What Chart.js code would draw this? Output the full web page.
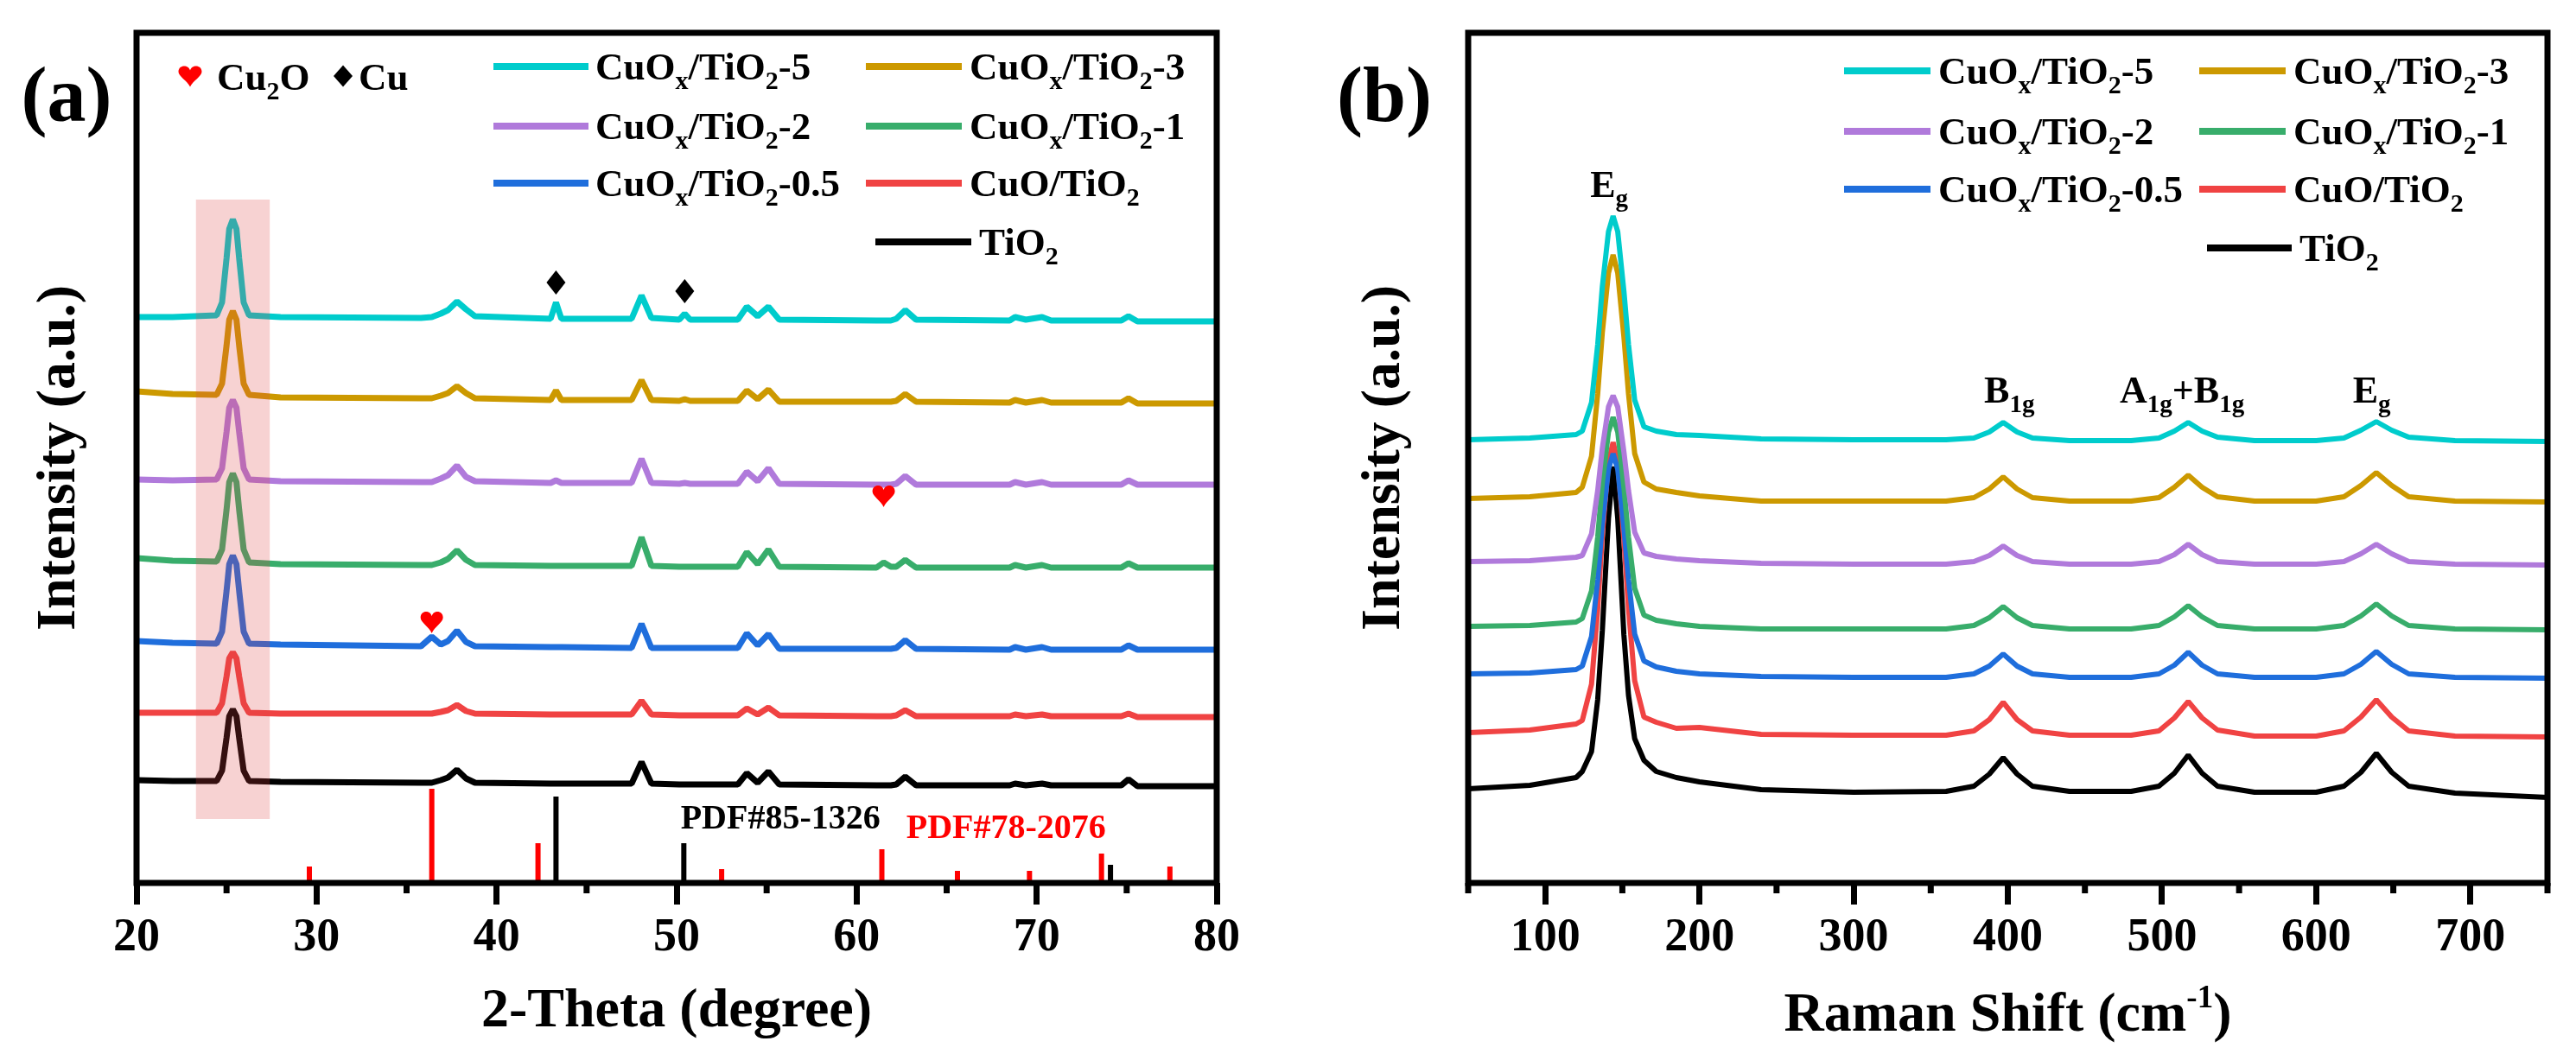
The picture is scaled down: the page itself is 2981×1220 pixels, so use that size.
<!DOCTYPE html>
<html><head><meta charset="utf-8">
<script src="https://cdn.jsdelivr.net/npm/chart.js@4.4.1/dist/chart.umd.min.js"></script>
<style>
html,body{margin:0;padding:0;background:#fff;}
#wrap{position:relative;width:2981px;height:1220px;background:#fff;}
canvas{position:absolute;top:0;}
#cA{left:0;width:1490px;height:1220px;}
#cB{left:1490px;width:1491px;height:1220px;}
</style></head><body>
<div id="wrap"><canvas id="cA" width="1490" height="1220"></canvas><canvas id="cB" width="1491" height="1220"></canvas></div>
<script>
// ---------------- DATA ----------------
const seriesLabels = ['CuO_{x}/TiO_{2}-5','CuO_{x}/TiO_{2}-3','CuO_{x}/TiO_{2}-2','CuO_{x}/TiO_{2}-1','CuO_{x}/TiO_{2}-0.5','CuO/TiO_{2}','TiO_{2}'];
const seriesColors = ['#00CCCC','#CC9900','#B07ADB','#38AD6B','#1F6EDC','#F04343','#000000'];

// (a) XRD, 2-theta (degree)
const xrdTheta = [20,22,24.45,24.75,25.0,25.15,25.35,25.55,25.7,25.95,26.25,28,35.8,36.4,36.9,37.3,37.8,38.3,38.8,43.0,43.3,43.6,47.5,48.05,48.6,50.15,50.45,50.75,53.4,53.9,54.5,55.1,55.7,61.1,61.5,61.9,62.2,62.7,63.3,68.5,68.8,69.4,70.3,70.8,74.7,75.1,75.6,80];
const xrdCuOx5 = [655,655,657,672,723,757,768,757,723,672,657,655,654,655,659,663,673,664,656,653,672,653,653,680,654,652,659,652,652,667,656,667,652,651,651,651,653,663,652,651,655,652,655,651,651,656,650,650];
const xrdCuOx3 = [569,566,565,578,622,652,662,652,622,578,565,562,561,561,564,567,575,567,561,559,570,559,559,582,559,558,560,558,558,570,560,571,557,557,557,557,558,566,557,556,559,556,559,556,556,561,555,555];
const xrdCuOx2 = [467,466,467,480,522,550,559,550,522,480,467,465,464,464,468,472,483,470,465,463,466,463,463,491,463,462,463,462,462,476,465,480,462,461,461,461,462,471,461,461,464,461,464,461,461,466,461,461];
const xrdCuOx1 = [376,373,372,386,432,464,474,464,432,386,371,369,368,368,371,375,385,374,368,367,367,367,367,400,367,366,366,366,366,383,369,386,366,365,371,366,366,374,365,365,368,365,368,365,365,370,365,365];
const xrdCuOx05 = [280,278,277,291,338,369,379,369,338,291,277,276,274,285,276,280,292,279,274,273,273,273,272,300,272,272,272,272,272,289,275,288,271,271,271,271,272,281,271,270,273,270,273,270,270,275,270,270];
const xrdCuO = [197,197,197,208,239,260,267,260,239,208,197,196,196,196,198,200,206,199,196,195,195,195,195,211,195,194,194,194,194,202,195,203,194,193,193,193,194,200,193,193,195,193,195,193,193,196,192,192];
const xrdTiO2 = [119,118,118,130,168,193,201,193,168,130,118,117,116,116,119,122,131,121,116,115,115,115,115,140,115,114,114,114,114,127,116,129,114,113,113,113,114,123,113,113,115,113,115,113,113,120,112,112];
// reference patterns
const cu2oTheta = [29.6,36.4,42.3,52.5,61.4,65.6,69.6,73.6,77.4];
const cu2oInt   = [19,109,46,16,39,14,14,34,19];
const cuTheta   = [43.3,50.4,74.1];
const cuInt     = [100,46,21];
// phase markers
const cuMarkTheta = [43.3,50.45];
const cuMarkInt   = [695,685];
const cu2oMarkTheta = [36.4,61.5];
const cu2oMarkInt   = [302,448];
const highlightTheta = [23.3,27.4];
const highlightInt   = [74,791];
const pdfLabels = ['PDF#85-1326','PDF#78-2076'];
const pdfTheta  = [55.77,68.3];
const pdfInt    = [73,62];
const xrdTickLabels = ['20','30','40','50','60','70','80'];

// (b) Raman, shift (cm-1)
const ramanShift = [50,90,120,124,130,134,137,141,144,147,151,154,158,164,172,185,200,240,300,360,378,388,397,406,416,440,480,498,508,517,526,536,560,600,618,629,639,649,660,690,750];
const ramanCuOx5 = [513,515,519,523,556,623,690,754,772,754,685,623,559,528,523,519,518,514,513,513,515,522,533,522,515,512,512,515,523,533,523,516,512,512,515,524,534,524,516,512,511];
const ramanCuOx3 = [445,447,452,458,494,566,637,706,727,706,632,566,497,464,456,452,448,442,442,442,446,456,470,456,446,442,442,446,458,472,458,447,442,442,447,460,475,460,447,442,441];
const ramanCuOx2 = [372,373,377,379,404,454,503,551,564,551,499,454,406,382,378,375,373,370,369,369,372,379,390,379,372,369,369,372,380,392,380,372,369,369,372,381,392,381,372,369,368];
const ramanCuOx1 = [297,298,302,306,338,400,463,522,539,522,458,400,341,310,304,300,297,294,294,294,298,307,320,307,298,294,294,298,308,321,308,298,294,294,298,309,323,309,298,294,293];
const ramanCuOx05 = [242,243,247,251,285,351,416,479,497,479,411,351,288,257,250,245,242,239,238,238,242,251,265,251,242,238,238,242,252,267,252,242,238,238,242,253,268,253,242,238,237];
const ramanCuO = [174,177,184,188,230,317,403,487,510,487,397,317,234,192,186,179,180,172,171,171,176,189,209,189,176,171,171,176,191,210,191,177,170,170,176,192,212,192,176,170,169];
const ramanTiO2 = [109,113,122,129,152,212,292,422,482,422,287,217,167,142,129,122,117,108,105,106,112,126,145,126,112,106,106,112,127,148,127,112,105,105,112,128,150,128,112,104,99];
const ramanModeLabels = ['E_{g}','B_{1g}','A_{1g}+B_{1g}','E_{g}'];
const ramanModeShift  = [141.4,401,513,636];
const ramanModeInt    = [794,556,556,556];
const ramanTickLabels = ['100','200','300','400','500','600','700'];

const xrdSeries = [xrdCuOx5,xrdCuOx3,xrdCuOx2,xrdCuOx1,xrdCuOx05,xrdCuO,xrdTiO2];
const ramanSeries = [ramanCuOx5,ramanCuOx3,ramanCuOx2,ramanCuOx1,ramanCuOx05,ramanCuO,ramanTiO2];

// ---------------- HELPERS ----------------
const SERIF = '"Liberation Serif"';
Chart.defaults.color = '#000';
Chart.defaults.font.family = SERIF;

function parseRich(s){
  const out=[]; let i=0, buf='';
  while(i<s.length){
    const c=s[i];
    if((c==='_'||c==='^') && s[i+1]==='{'){
      if(buf){out.push({t:buf,m:0}); buf='';}
      const j=s.indexOf('}',i);
      out.push({t:s.slice(i+2,j), m: c==='_'?1:2});
      i=j+1;
    } else {buf+=c; i++;}
  }
  if(buf) out.push({t:buf,m:0});
  return out;
}
function plain(s){ return parseRich(s).map(p=>p.t).join(''); }
function subSize(size,m){ return m===0 ? size : Math.round(size*(m===1?0.66:0.58)); }
function drawRich(ctx, s, x, y, size, color, align){
  const parts=parseRich(s);
  ctx.save();
  ctx.fillStyle=color; ctx.textBaseline='alphabetic'; ctx.textAlign='left';
  let w=0;
  for(const p of parts){ ctx.font='bold '+subSize(size,p.m)+'px '+SERIF; w+=ctx.measureText(p.t).width; }
  let cx = align==='center' ? x-w/2 : x;
  for(const p of parts){
    ctx.font='bold '+subSize(size,p.m)+'px '+SERIF;
    const dy = p.m===1 ? size*0.25 : (p.m===2 ? -size*0.42 : 0);
    ctx.fillText(p.t, cx, y+dy);
    cx += ctx.measureText(p.t).width;
  }
  ctx.restore();
}
function heart(ctx,cx,cy,w,h,color){
  const top=cy-h/2, bot=cy+h/2;
  ctx.save(); ctx.fillStyle=color; ctx.beginPath();
  ctx.moveTo(cx,bot);
  ctx.bezierCurveTo(cx-w*0.12,bot-h*0.28, cx-w/2,cy+h*0.02, cx-w/2,top+h*0.3);
  ctx.bezierCurveTo(cx-w/2,top-h*0.04, cx-w*0.06,top-h*0.04, cx,top+h*0.24);
  ctx.bezierCurveTo(cx+w*0.06,top-h*0.04, cx+w/2,top-h*0.04, cx+w/2,top+h*0.3);
  ctx.bezierCurveTo(cx+w/2,cy+h*0.02, cx+w*0.12,bot-h*0.28, cx,bot);
  ctx.closePath(); ctx.fill(); ctx.restore();
}
function diamond(ctx,cx,cy,w,h,color){
  ctx.save(); ctx.fillStyle=color; ctx.beginPath();
  ctx.moveTo(cx,cy-h/2); ctx.lineTo(cx+w/2,cy); ctx.lineTo(cx,cy+h/2); ctx.lineTo(cx-w/2,cy);
  ctx.closePath(); ctx.fill(); ctx.restore();
}
function drawFrame(chart){
  const {ctx, chartArea:a} = chart;
  ctx.save(); ctx.strokeStyle='#000'; ctx.lineWidth=7;
  ctx.strokeRect(a.left,a.top,a.right-a.left,a.bottom-a.top);
  ctx.restore();
}
function drawMinorTicks(chart, step, majors){
  const {ctx, scales:{x}, chartArea:a} = chart;
  ctx.save(); ctx.strokeStyle='#000'; ctx.lineWidth=7;
  for(let v=x.min; v<=x.max+1e-9; v+=step){
    if(majors.includes(String(v))) continue;
    const px=x.getPixelForValue(v);
    ctx.beginPath(); ctx.moveTo(px,a.bottom); ctx.lineTo(px,a.bottom+12); ctx.stroke();
  }
  ctx.restore();
}
function drawLegend(chart, items){
  const ctx=chart.ctx;
  items.forEach(it=>{
    ctx.save(); ctx.strokeStyle=seriesColors[it.i]; ctx.lineWidth=8; ctx.lineCap='butt';
    ctx.beginPath(); ctx.moveTo(it.x1,it.y); ctx.lineTo(it.x2,it.y); ctx.stroke(); ctx.restore();
    drawRich(ctx, seriesLabels[it.i], it.tx, it.y+15, 45, '#000', 'left');
  });
}
function yTitle(ctx, text, x, y){
  ctx.save(); ctx.translate(x,y); ctx.rotate(-Math.PI/2);
  ctx.fillStyle='#000'; ctx.font='bold 64px '+SERIF; ctx.textAlign='center'; ctx.textBaseline='alphabetic';
  ctx.fillText(text,0,0); ctx.restore();
}

function traceSets(xs, series, width){
  return series.map((arr,i)=>({
    label: plain(seriesLabels[i]),
    data: xs.map((x,k)=>({x:x, y:arr[k]})),
    borderColor: seriesColors[i],
    borderWidth: width,
    pointRadius: 0,
    tension: 0,
    borderJoinStyle: 'bevel',
    fill: false
  }));
}
function stickSet(label, xs, hs, color){
  const d=[];
  xs.forEach((x,k)=>{ d.push({x:x,y:0}); d.push({x:x,y:hs[k]}); d.push({x:x,y:null}); });
  return {label, data:d, borderColor:color, borderWidth:6, pointRadius:0, spanGaps:false, borderCapStyle:'butt', fill:false};
}
function xScale(min,max,step,labels){
  return {
    type:'linear', min, max,
    border:{display:false},
    ticks:{stepSize:step, autoSkip:false, maxRotation:0, minRotation:0, padding:7, color:'#000',
      font:{family:SERIF, size:54, weight:'bold'},
      callback:(v)=> labels.includes(String(v)) ? String(v) : ''},
    grid:{display:true, drawOnChartArea:false, drawTicks:true, tickLength:25, tickWidth:7,
      tickColor:(c)=> (c.tick && labels.includes(String(c.tick.value))) ? '#000' : 'rgba(0,0,0,0)'},
    afterFit:(s)=>{ s.height = 198; }
  };
}

// ---------------- CHART (a) ----------------
const decorA = {
  id:'decorA',
  afterDatasetsDraw(chart){
    const {ctx, scales:{x,y}} = chart;
    ctx.save();
    ctx.fillStyle='rgba(222,66,66,0.24)';
    const x1=x.getPixelForValue(highlightTheta[0]), x2=x.getPixelForValue(highlightTheta[1]);
    const y1=y.getPixelForValue(highlightInt[1]), y2=y.getPixelForValue(highlightInt[0]);
    ctx.fillRect(x1,y1,x2-x1,y2-y1);
    ctx.restore();
    cuMarkTheta.forEach((t,k)=> diamond(ctx, x.getPixelForValue(t), y.getPixelForValue(cuMarkInt[k]), 22, 28, '#000'));
    cu2oMarkTheta.forEach((t,k)=> heart(ctx, x.getPixelForValue(t), y.getPixelForValue(cu2oMarkInt[k]), 26, 26, '#FF0000'));
    ctx.save();
    ctx.font='bold 40px '+SERIF; ctx.textAlign='center'; ctx.textBaseline='middle';
    ctx.fillStyle='#000'; ctx.fillText(pdfLabels[0], x.getPixelForValue(pdfTheta[0]), y.getPixelForValue(pdfInt[0]));
    ctx.fillStyle='#FF0000'; ctx.fillText(pdfLabels[1], x.getPixelForValue(pdfTheta[1]), y.getPixelForValue(pdfInt[1]));
    ctx.restore();
  },
  afterDraw(chart){
    const ctx=chart.ctx, a=chart.chartArea;
    drawFrame(chart);
    drawMinorTicks(chart, 5, xrdTickLabels);
    drawLegend(chart, [
      {i:0,x1:571,x2:681,tx:689,y:77},{i:1,x1:1002,x2:1113,tx:1122,y:77},
      {i:2,x1:571,x2:681,tx:689,y:146},{i:3,x1:1002,x2:1113,tx:1122,y:146},
      {i:4,x1:571,x2:681,tx:689,y:212},{i:5,x1:1002,x2:1113,tx:1122,y:212},
      {i:6,x1:1013,x2:1124,tx:1133,y:280}
    ]);
    heart(ctx,220,88,27,25,'#FF0000');
    drawRich(ctx,'Cu_{2}O',251,104,45,'#000','left');
    diamond(ctx,397,88,22,25,'#000');
    drawRich(ctx,'Cu',415,104,45,'#000','left');
    ctx.save(); ctx.fillStyle='#000'; ctx.font='bold 90px '+SERIF; ctx.textAlign='center'; ctx.textBaseline='alphabetic';
    ctx.fillText('(a)',77,140); ctx.restore();
    yTitle(ctx,'Intensity (a.u.)',86,(a.top+a.bottom)/2);
    ctx.save(); ctx.fillStyle='#000'; ctx.font='bold 64px '+SERIF; ctx.textAlign='center'; ctx.textBaseline='alphabetic';
    ctx.fillText('2-Theta (degree)',(a.left+a.right)/2,1188); ctx.restore();
  }
};

new Chart(document.getElementById('cA'), {
  type:'line',
  data:{datasets:[...traceSets(xrdTheta,xrdSeries,7),
    stickSet('PDF#85-1326 (Cu)',cuTheta,cuInt,'#000000'),
    stickSet('PDF#78-2076 (Cu2O)',cu2oTheta,cu2oInt,'#FF0000')]},
  options:{
    responsive:false, animation:false, devicePixelRatio:1,
    layout:{padding:{left:158,right:82,top:38,bottom:0}},
    plugins:{legend:{display:false}, tooltip:{enabled:false}, title:{display:false}},
    scales:{ x: xScale(20,80,5,xrdTickLabels), y:{display:false,min:0,max:984} }
  },
  plugins:[decorA]
});

// ---------------- CHART (b) ----------------
const decorB = {
  id:'decorB',
  afterDraw(chart){
    const ctx=chart.ctx, a=chart.chartArea, x=chart.scales.x, y=chart.scales.y;
    drawFrame(chart);
    drawMinorTicks(chart, 50, ramanTickLabels);
    drawLegend(chart, [
      {i:0,x1:644,x2:744,tx:753,y:82},{i:1,x1:1055,x2:1155,tx:1164,y:82},
      {i:2,x1:644,x2:744,tx:753,y:152},{i:3,x1:1055,x2:1155,tx:1164,y:152},
      {i:4,x1:644,x2:744,tx:753,y:219},{i:5,x1:1055,x2:1155,tx:1164,y:219},
      {i:6,x1:1064,x2:1162,tx:1171,y:287}
    ]);
    ramanModeLabels.forEach((l,k)=> drawRich(ctx,l,x.getPixelForValue(ramanModeShift[k]),y.getPixelForValue(ramanModeInt[k]),44,'#000','center'));
    ctx.save(); ctx.fillStyle='#000'; ctx.font='bold 90px '+SERIF; ctx.textAlign='center'; ctx.textBaseline='alphabetic';
    ctx.fillText('(b)',112,140); ctx.restore();
    yTitle(ctx,'Intensity (a.u.)',129,(a.top+a.bottom)/2);
    drawRich(ctx,'Raman Shift (cm^{-1})',(a.left+a.right)/2,1193,64,'#000','center');
  }
};

new Chart(document.getElementById('cB'), {
  type:'line',
  data:{datasets:traceSets(ramanShift,ramanSeries,6)},
  options:{
    responsive:false, animation:false, devicePixelRatio:1,
    layout:{padding:{left:209,right:33,top:38,bottom:0}},
    plugins:{legend:{display:false}, tooltip:{enabled:false}, title:{display:false}},
    scales:{ x: xScale(50,750,50,ramanTickLabels), y:{display:false,min:0,max:984} }
  },
  plugins:[decorB]
});
</script>
</body></html>
